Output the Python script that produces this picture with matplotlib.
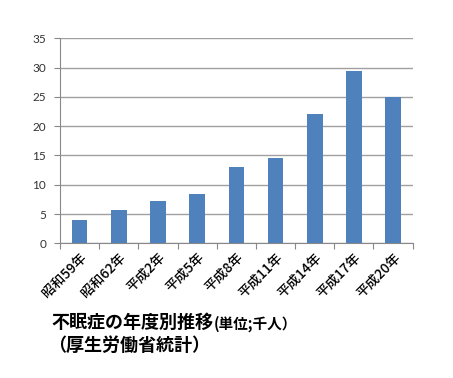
import matplotlib.pyplot as plt
import numpy as np

# 不眠症の年度別推移 (千人)
years = ['昭和59年', '昭和62年', '平成2年', '平成5年', '平成8年',
         '平成11年', '平成14年', '平成17年', '平成20年']
patients = [3.9, 5.7, 7.3, 8.5, 13.1, 14.6, 22.1, 29.4, 25.0]
yticks = [0, 5, 10, 15, 20, 25, 30, 35]

plt.rcParams['font.family'] = ['Noto Sans CJK JP', 'DejaVu Sans']

fig = plt.figure(figsize=(4.53, 3.78), dpi=100)
ax = fig.add_axes([0.1325, 0.3563, 0.7785, 0.5424])

x = np.arange(len(years))
ax.bar(x, patients, width=0.4, color='#4F81BD', zorder=3)

ax.set_xlim(-0.5, len(years) - 0.5)
ax.set_ylim(0, 35)
ax.set_yticks(yticks)
ax.set_yticklabels([str(v) for v in yticks], fontsize=8.5, color='#333333',
                   family=['Lato', 'DejaVu Sans'])
ax.yaxis.grid(True, color='#a0a0a0', linewidth=1, zorder=0)

# category ticks sit between the bars
ax.set_xticks(np.arange(len(years) + 1) - 0.5)
ax.set_xticklabels([])
ax.set_xticks(x, minor=True)
ax.set_xticklabels(years, minor=True, rotation=45, ha='right',
                   rotation_mode='anchor', fontsize=9.8, fontweight='medium')
ax.tick_params(axis='x', which='minor', length=0, pad=5)
ax.tick_params(axis='x', which='major', length=4, color='#888888')
ax.tick_params(axis='y', length=4, color='#888888', pad=6)

for side in ['top', 'right']:
    ax.spines[side].set_visible(False)
ax.spines['left'].set_color('#888888')
ax.spines['bottom'].set_color('#888888')

t1 = fig.text(0.113, 0.132, '不眠症の年度別推移', fontsize=13,
              fontweight='bold', va='baseline')
fig.canvas.draw()
bb = t1.get_window_extent()
fig.text(bb.x1 / fig.bbox.width + 0.002, 0.132, '(単位;千人）', fontsize=10.5,
         fontweight='bold', va='baseline')
fig.text(0.106, 0.072, '（厚生労働省統計）', fontsize=13,
         fontweight='bold', va='baseline')

fig.savefig('out.png', dpi=100)
